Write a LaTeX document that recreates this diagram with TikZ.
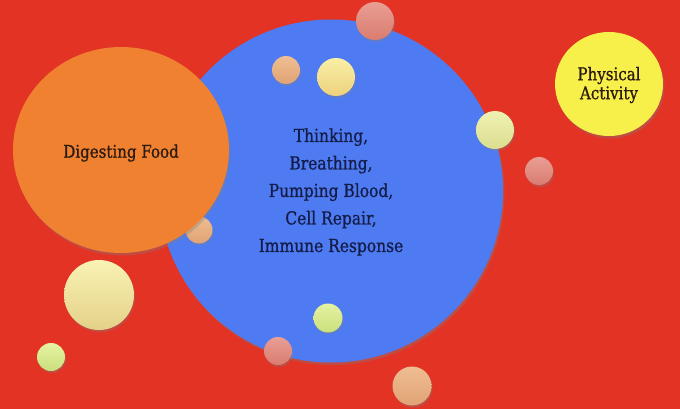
\documentclass[tikz,border=0pt]{standalone}
\usepackage{fontspec}
\setmainfont[FakeStretch=0.86,FakeBold=0.8]{DejaVu Serif}
\usetikzlibrary{shapes.geometric,shadows}
\definecolor{bgred}{HTML}{E23325}
\definecolor{bigblue}{HTML}{4F7BF2}
\definecolor{bigorange}{HTML}{EF8130}
\definecolor{bigyellow}{HTML}{F8F04A}
\definecolor{navytext}{HTML}{141C48}
\definecolor{darktext}{HTML}{2A1A10}
\definecolor{EA9E94c}{HTML}{EA9E94}
\definecolor{D97C70c}{HTML}{D97C70}
\definecolor{EFBE92c}{HTML}{EFBE92}
\definecolor{E0A274c}{HTML}{E0A274}
\definecolor{F9EFA6c}{HTML}{F9EFA6}
\definecolor{EDD27Ec}{HTML}{EDD27E}
\definecolor{F0F2B4c}{HTML}{F0F2B4}
\definecolor{DADE8Ec}{HTML}{DADE8E}
\definecolor{E6F2A2c}{HTML}{E6F2A2}
\definecolor{C9DF7Cc}{HTML}{C9DF7C}
\definecolor{F9F2B4c}{HTML}{F9F2B4}
\definecolor{E4D188c}{HTML}{E4D188}
\tikzset{
  bigcirc/.style={ellipse, inner sep=0pt,
    drop shadow={opacity=0.35, shadow xshift=1.5pt, shadow yshift=-2.5pt}},
  bubble/.style={circle, inner sep=0pt, minimum size=#1,
    drop shadow={opacity=0.35, shadow xshift=1pt, shadow yshift=-2pt}},
  pinkb/.style={top color=EA9E94c, bottom color=D97C70c},
  peachb/.style={top color=EFBE92c, bottom color=E0A274c},
  yellowb/.style={top color=F9EFA6c, bottom color=EDD27Ec},
  ygreenb/.style={top color=F0F2B4c, bottom color=DADE8Ec},
  greenb/.style={top color=E6F2A2c, bottom color=C9DF7Cc},
  paleb/.style={top color=F9F2B4c, bottom color=E4D188c},
  lbl/.style={align=center, inner sep=0pt},
}
\begin{document}
\begin{tikzpicture}[x=1pt, y=-1pt]
\fill[bgred] (0,0) rectangle (680,409);
\useasboundingbox (0,0) rectangle (680,409);
% big blue circle
\node[bigcirc, fill=bigblue, minimum width=344pt, minimum height=343pt] (blue) at (331,191) {};
\node[lbl, text=navytext, font=\fontsize{18}{27.5}\selectfont] (bluetext) at (331,192)
  {Thinking,\\Breathing,\\Pumping Blood,\\Cell Repair,\\Immune Response};
% bubble behind orange
\node[bubble=27pt, peachb] (b6) at (199,230) {};
% orange circle
\node[bigcirc, fill=bigorange, minimum width=216pt, minimum height=206pt] (orange) at (121,150) {};
\node[lbl, text=darktext, font=\fontsize{17.5}{22}\selectfont] (orangetext) at (121,153) {Digesting Food};
% yellow circle
\node[bigcirc, fill=bigyellow, minimum width=108pt, minimum height=104pt] (yellow) at (609,84) {};
\node[lbl, text=darktext, font=\fontsize{17.5}{19}\selectfont] (yellowtext) at (609,85) {Physical\\Activity};
% bubbles
\node[bubble=38pt, pinkb]   (b1)  at (375,21)  {};
\node[bubble=28pt, peachb]  (b2)  at (286,70)  {};
\node[bubble=38pt, yellowb] (b3)  at (336,77)  {};
\node[bubble=38pt, ygreenb] (b4)  at (495,130) {};
\node[bubble=28pt, pinkb]   (b5)  at (539,171) {};
\node[bubble=70pt, paleb]   (b7)  at (99,295)  {};
\node[bubble=28pt, greenb]  (b8)  at (51,357)  {};
\node[bubble=29pt, greenb]  (b9)  at (328,318) {};
\node[bubble=28pt, pinkb]   (b10) at (278,351) {};
\node[bubble=39pt, peachb]  (b11) at (412,386) {};
\end{tikzpicture}
\end{document}
